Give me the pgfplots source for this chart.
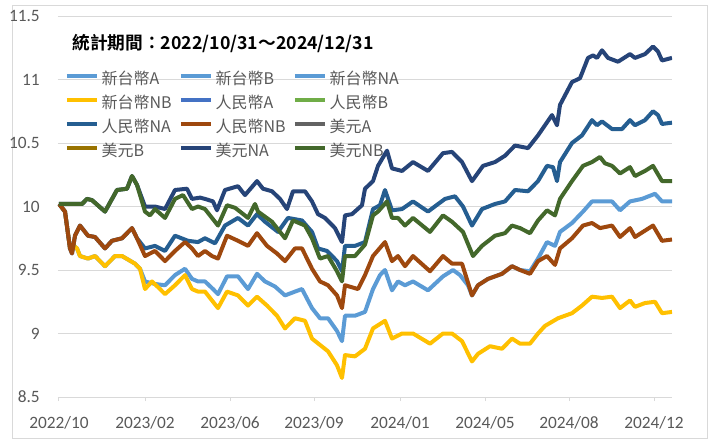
\documentclass[border=0pt]{standalone}
\usepackage{fontspec}
\setmainfont{Carlito}
\newfontfamily\cjk{Noto Sans CJK TC}[BoldFont={Noto Sans CJK TC Bold}]
\usepackage{pgfplots}
\pgfplotsset{compat=1.18}
\usepackage{pgfplotstable}
\definecolor{cLB}{HTML}{5B9BD5}
\definecolor{cYel}{HTML}{FFC000}
\definecolor{cRA}{HTML}{4472C4}
\definecolor{cRB}{HTML}{70AD47}
\definecolor{cRNA}{HTML}{255E91}
\definecolor{cRNB}{HTML}{9E480E}
\definecolor{cUA}{HTML}{636363}
\definecolor{cUB}{HTML}{997300}
\definecolor{cUNA}{HTML}{264478}
\definecolor{cUNB}{HTML}{43682B}
\definecolor{cGrid}{HTML}{D9D9D9}
\definecolor{cTxt}{HTML}{595959}

\pgfplotstableread{
x y
0 10.02
6 9.96
11 9.67
15 9.69
18 9.67
21 9.61
29 9.59
36 9.61
46 9.53
56 9.61
63 9.61
76 9.55
81 9.51
86 9.41
96 9.39
106 9.38
116 9.46
126 9.51
133 9.43
139 9.41
146 9.41
154 9.35
159 9.31
168 9.45
179 9.45
189 9.35
198 9.47
206 9.41
216 9.37
226 9.30
236 9.33
243 9.35
253 9.20
261 9.12
269 9.12
278 9.02
283 8.94
286 9.14
296 9.14
306 9.17
314 9.35
321 9.46
326 9.50
333 9.34
339 9.41
346 9.38
354 9.41
369 9.34
384 9.45
394 9.50
401 9.46
409 9.38
413 9.30
419 9.38
429 9.43
443 9.47
453 9.53
461 9.50
471 9.49
479 9.59
488 9.72
496 9.69
501 9.80
513 9.87
524 9.96
533 10.04
543 10.04
553 10.04
561 9.97
571 10.04
583 10.06
596 10.10
603 10.04
613 10.04
}\tblTWNA

\pgfplotstableread{
x y
0 10.02
6 9.96
11 9.67
15 9.69
18 9.67
21 9.61
29 9.59
36 9.61
46 9.53
56 9.61
63 9.61
76 9.55
81 9.51
86 9.35
93 9.41
101 9.35
106 9.31
116 9.38
126 9.46
133 9.35
139 9.33
146 9.33
154 9.25
159 9.20
168 9.33
179 9.30
189 9.22
198 9.29
208 9.22
218 9.14
226 9.04
236 9.12
246 9.10
253 8.96
261 8.91
269 8.86
278 8.75
283 8.65
286 8.83
296 8.82
306 8.88
314 9.04
326 9.10
333 8.96
343 9.00
354 9.00
371 8.92
384 9.00
393 9.00
403 8.94
413 8.78
419 8.84
431 8.90
443 8.88
453 8.96
461 8.92
471 8.92
479 9.00
486 9.06
499 9.12
513 9.16
523 9.22
533 9.29
543 9.28
553 9.29
561 9.20
571 9.26
576 9.21
586 9.24
596 9.25
603 9.16
613 9.17
}\tblTWNB

\pgfplotstableread{
x y
0 10.02
6 9.96
11 9.67
13 9.63
16 9.77
21 9.85
29 9.77
36 9.76
46 9.67
53 9.73
63 9.75
73 9.83
78 9.75
86 9.67
96 9.69
106 9.65
116 9.77
129 9.73
139 9.72
146 9.75
156 9.71
166 9.85
179 9.91
189 9.85
198 9.94
206 9.88
219 9.80
229 9.91
243 9.89
253 9.80
259 9.67
268 9.65
278 9.57
283 9.49
286 9.69
296 9.69
306 9.72
314 9.98
321 10.01
326 10.13
333 9.97
343 9.98
354 10.04
369 9.96
386 10.06
396 10.08
404 10.00
413 9.85
423 9.98
436 10.02
446 10.04
456 10.13
469 10.12
479 10.20
488 10.32
494 10.31
498 10.20
501 10.35
513 10.50
523 10.56
533 10.68
538 10.64
543 10.67
553 10.61
563 10.61
571 10.68
576 10.64
586 10.68
594 10.75
599 10.72
603 10.65
613 10.66
}\tblRNA

\pgfplotstableread{
x y
0 10.02
6 9.96
11 9.67
13 9.63
16 9.77
21 9.85
29 9.77
36 9.76
46 9.67
53 9.73
63 9.75
73 9.83
78 9.75
86 9.61
96 9.65
106 9.57
116 9.65
126 9.72
133 9.67
139 9.61
146 9.65
153 9.61
159 9.59
168 9.77
179 9.73
189 9.69
198 9.79
208 9.69
218 9.63
226 9.57
236 9.67
243 9.67
253 9.51
261 9.41
269 9.38
278 9.30
283 9.20
286 9.38
299 9.35
306 9.46
314 9.61
326 9.72
333 9.57
339 9.61
346 9.53
354 9.61
371 9.49
384 9.61
393 9.55
403 9.55
413 9.30
419 9.38
429 9.43
443 9.47
453 9.53
461 9.50
471 9.47
479 9.57
488 9.61
496 9.54
501 9.67
513 9.75
524 9.85
533 9.87
541 9.83
553 9.85
561 9.76
571 9.83
576 9.76
586 9.81
594 9.85
603 9.73
613 9.74
}\tblRNB

\pgfplotstableread{
x y
0 10.02
23 10.02
28 10.06
33 10.05
46 9.96
58 10.13
68 10.14
73 10.24
78 10.17
86 10.00
96 10.00
106 9.98
116 10.13
128 10.14
133 10.06
141 10.07
146 10.06
154 10.04
158 9.97
166 10.13
179 10.16
186 10.09
198 10.20
204 10.14
213 10.12
221 10.06
228 9.98
234 10.12
246 10.12
253 10.04
259 9.94
266 9.91
276 9.83
283 9.72
286 9.93
293 9.94
303 10.01
306 10.14
314 10.20
319 10.32
328 10.44
333 10.30
343 10.28
354 10.35
369 10.28
384 10.42
393 10.43
403 10.35
413 10.20
424 10.32
436 10.35
446 10.40
456 10.48
469 10.46
479 10.56
493 10.72
498 10.64
501 10.80
513 10.98
521 11.01
529 11.17
534 11.19
538 11.17
543 11.23
549 11.17
559 11.14
571 11.20
576 11.17
586 11.20
594 11.26
599 11.22
603 11.15
613 11.17
}\tblUNA

\pgfplotstableread{
x y
0 10.02
23 10.02
28 10.06
33 10.05
46 9.96
58 10.13
68 10.14
73 10.24
78 10.17
86 9.96
91 9.93
96 9.98
106 9.91
116 10.06
124 10.09
133 9.98
139 10.00
146 9.98
153 9.91
159 9.85
168 10.01
176 9.99
181 9.96
189 9.91
196 10.02
199 9.96
213 9.88
226 9.75
234 9.89
246 9.85
253 9.75
261 9.59
269 9.61
278 9.49
283 9.41
286 9.61
296 9.61
306 9.70
314 9.93
319 9.96
328 10.04
333 9.91
339 9.91
346 9.85
354 9.91
371 9.80
384 9.93
393 9.88
404 9.80
414 9.61
423 9.69
436 9.77
446 9.79
453 9.85
461 9.83
471 9.79
479 9.89
488 9.97
496 9.93
501 10.06
513 10.20
524 10.32
533 10.35
541 10.39
546 10.34
553 10.32
561 10.26
571 10.31
576 10.24
586 10.28
594 10.32
603 10.20
613 10.20
}\tblUNB

\begin{document}
\begin{tikzpicture}
\path (0pt,0pt) rectangle (532.5pt,-333pt);
\draw[cGrid, line width=0.75pt] (9.4pt,-3.75pt) rectangle (530.6pt,-328.5pt);
\begin{axis}[
  at={(43.5pt,-297.75pt)}, anchor=south west,
  scale only axis, width=460.5pt, height=285.75pt,
  xmin=-1, xmax=613, ymin=8.5, ymax=11.5,
  axis lines*=left,
  x axis line style={draw=cGrid, line width=0.75pt, -},
  y axis line style={draw=none},
  ytick={8.5,9,9.5,10,10.5,11,11.5},
  xtick={0,86,171,255,341,426,510,595},
  xticklabels={2022/10,2023/02,2023/06,2023/09,2024/01,2024/05,2024/08,2024/12},
  ymajorgrids, grid style={cGrid, line width=0.75pt},
  tick align=outside, major tick length=3pt,
  xtick style={draw=cGrid, line width=0.75pt},
  ytick style={draw=none},
  /pgf/number format/assume math mode=true,
  tick label style={font=\fontsize{13}{15}\selectfont, text=cTxt},
  yticklabel style={anchor=east, inner sep=0pt, xshift=-10.5pt},
  xticklabel style={anchor=north, inner sep=0pt, yshift=-11.5pt},
  legend columns=3,
  legend cell align=left,
  legend style={at={(axis description cs:0.0114,0.861)}, anchor=north west,
    draw=none, fill=none, inner sep=0pt, outer sep=0pt,
    column sep=0pt, row sep=0pt,
    font=\cjk\fontsize{12}{14}\selectfont, text=cTxt,
    nodes={text width=56pt, align=left, inner xsep=2pt, inner ysep=3pt, text height=9pt, text depth=3pt}},
  legend image code/.code={\draw[#1] (0pt,4pt) -- (22.5pt,4pt);},
  every axis plot/.append style={line width=3pt, line join=round},
]
\addplot[cLB, forget plot] table[x=x,y=y]{\tblTWNA};
\addplot[cYel, forget plot] table[x=x,y=y]{\tblTWNB};
\addplot[cRNA, forget plot] table[x=x,y=y]{\tblRNA};
\addplot[cRNB, forget plot] table[x=x,y=y]{\tblRNB};
\addplot[cUNA, forget plot] table[x=x,y=y]{\tblUNA};
\addplot[cUNB, forget plot] table[x=x,y=y]{\tblUNB};
\addlegendimage{cLB, line width=3pt}\addlegendentry{新台幣A}
\addlegendimage{cLB, line width=3pt}\addlegendentry{新台幣B}
\addlegendimage{cLB, line width=3pt}\addlegendentry{新台幣NA}
\addlegendimage{cYel, line width=3pt}\addlegendentry{新台幣NB}
\addlegendimage{cRA, line width=3pt}\addlegendentry{人民幣A}
\addlegendimage{cRB, line width=3pt}\addlegendentry{人民幣B}
\addlegendimage{cRNA, line width=3pt}\addlegendentry{人民幣NA}
\addlegendimage{cRNB, line width=3pt}\addlegendentry{人民幣NB}
\addlegendimage{cUA, line width=3pt}\addlegendentry{美元A}
\addlegendimage{cUB, line width=3pt}\addlegendentry{美元B}
\addlegendimage{cUNA, line width=3pt}\addlegendentry{美元NA}
\addlegendimage{cUNB, line width=3pt}\addlegendentry{美元NB}
\end{axis}
\node[anchor=west, inner sep=0pt, font=\cjk\bfseries\fontsize{13.3}{16}\selectfont] at (54pt,-32.25pt) {統計期間：2022/10/31～2024/12/31};
\end{tikzpicture}
\end{document}
